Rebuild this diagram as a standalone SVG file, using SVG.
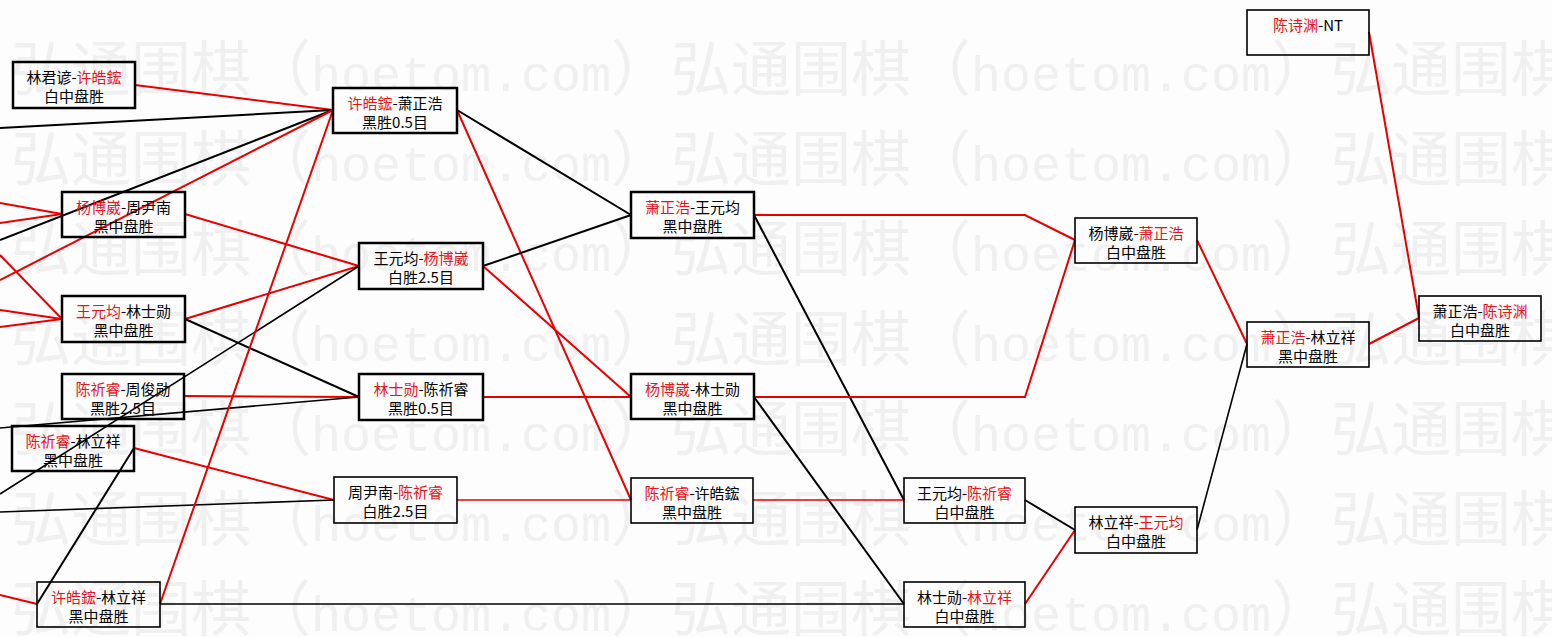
<svg xmlns="http://www.w3.org/2000/svg" width="1552" height="637" viewBox="0 0 1552 637">
<style>
.bg{fill:#fdfdfd}
.wm{font-family:"Noto Sans CJK SC",sans-serif;font-size:60px;fill:#f0f0f0}
.wl{font-family:"Liberation Mono",monospace;font-size:50px}
.box{fill:none;stroke:#000}
.thick{stroke-width:2.5}
.thin{stroke-width:1.6}
.t{font-family:"Noto Sans CJK SC","Liberation Sans",sans-serif;font-size:15px;text-anchor:middle;fill:#000}
.r{fill:#e8141b}
.cr{stroke:#e80000;fill:none;stroke-width:2}
.cb{stroke:#000;fill:none;stroke-width:2}
.n{stroke-width:1.6}
</style>
<rect class="bg" x="0" y="0" width="1552" height="637"/>
<g id="watermark">
<text class="wm" x="11" y="91">弘通围棋（<tspan class="wl">hoetom.com</tspan>）弘通围棋（<tspan class="wl">hoetom.com</tspan>）弘通围棋（<tspan class="wl">hoetom.com</tspan>）</text>
<text class="wm" x="11" y="181">弘通围棋（<tspan class="wl">hoetom.com</tspan>）弘通围棋（<tspan class="wl">hoetom.com</tspan>）弘通围棋（<tspan class="wl">hoetom.com</tspan>）</text>
<text class="wm" x="11" y="271">弘通围棋（<tspan class="wl">hoetom.com</tspan>）弘通围棋（<tspan class="wl">hoetom.com</tspan>）弘通围棋（<tspan class="wl">hoetom.com</tspan>）</text>
<text class="wm" x="11" y="361">弘通围棋（<tspan class="wl">hoetom.com</tspan>）弘通围棋（<tspan class="wl">hoetom.com</tspan>）弘通围棋（<tspan class="wl">hoetom.com</tspan>）</text>
<text class="wm" x="11" y="451">弘通围棋（<tspan class="wl">hoetom.com</tspan>）弘通围棋（<tspan class="wl">hoetom.com</tspan>）弘通围棋（<tspan class="wl">hoetom.com</tspan>）</text>
<text class="wm" x="11" y="541">弘通围棋（<tspan class="wl">hoetom.com</tspan>）弘通围棋（<tspan class="wl">hoetom.com</tspan>）弘通围棋（<tspan class="wl">hoetom.com</tspan>）</text>
<text class="wm" x="11" y="631">弘通围棋（<tspan class="wl">hoetom.com</tspan>）弘通围棋（<tspan class="wl">hoetom.com</tspan>）弘通围棋（<tspan class="wl">hoetom.com</tspan>）</text>
</g>
<g id="connectors">
<path class="cr" d="M135,85 L333,110"/>
<path class="cb" d="M0,128 L333,110"/>
<path class="cb" d="M0,240 L333,110"/>
<path class="cr" d="M0,280 L333,110"/>
<path class="cr" d="M0,203 L62,214"/>
<path class="cr" d="M0,223 L62,214"/>
<path class="cr" d="M0,255 L62,319"/>
<path class="cr" d="M0,310 L62,319"/>
<path class="cr" d="M0,327 L62,319"/>
<path class="cr" d="M185,214 L359,266"/>
<path class="cr" d="M185,319 L359,266"/>
<path class="cb" d="M185,319 L359,397"/>
<path class="cr" d="M184,396 L359,397"/>
<path class="cb n" d="M0,494 L359,266"/>
<path class="cb n" d="M0,428 L359,397"/>
<path class="cb" d="M134,448 L37,604"/>
<path class="cr" d="M134,448 L334,500"/>
<path class="cb n" d="M0,512 L334,500"/>
<path class="cr" d="M0,595 L37,604"/>
<path class="cr" d="M160,604 L333,110"/>
<path class="cb n" d="M160,604 L904,604"/>
<path class="cb" d="M457,110 L631,215"/>
<path class="cr" d="M457,110 L631,500"/>
<path class="cb" d="M483,266 L631,215"/>
<path class="cr" d="M483,266 L631,397"/>
<path class="cr" d="M483,397 L631,397"/>
<path class="cr n" d="M457,500 L631,500"/>
<path class="cr" d="M754,215 L1025,215 L1075,240"/>
<path class="cb" d="M754,215 L904,500"/>
<path class="cr" d="M754,397 L1025,397 L1075,240"/>
<path class="cb" d="M754,397 L904,604"/>
<path class="cr n" d="M753,500 L904,500"/>
<path class="cb" d="M1025,500 L1075,530"/>
<path class="cr" d="M1025,604 L1075,530"/>
<path class="cr" d="M1197,240 L1247,344"/>
<path class="cb n" d="M1197,530 L1247,344"/>
<path class="cr" d="M1369,344 L1419,318"/>
<path class="cr" d="M1369,32 L1419,318"/>
</g>
<g id="nA"><rect class="box thick" x="13" y="62" width="122" height="46"/><text class="t" x="74" y="83">林君谚-<tspan class="r">许皓鋐</tspan></text><text class="t" x="74" y="102">白中盘胜</text></g>
<g id="nB"><rect class="box thick" x="62" y="192" width="123" height="45"/><text class="t" x="123.5" y="213"><tspan class="r">杨博崴</tspan>-周尹南</text><text class="t" x="123.5" y="232">黑中盘胜</text></g>
<g id="nC"><rect class="box thick" x="62" y="296" width="123" height="46"/><text class="t" x="123.5" y="317"><tspan class="r">王元均</tspan>-林士勋</text><text class="t" x="123.5" y="336">黑中盘胜</text></g>
<g id="nD"><rect class="box thick" x="62" y="374" width="122" height="45"/><text class="t" x="123" y="395"><tspan class="r">陈祈睿</tspan>-周俊勋</text><text class="t" x="123" y="414">黑胜2.5目</text></g>
<g id="nE"><rect class="box thick" x="12" y="426" width="122" height="45"/><text class="t" x="73" y="447"><tspan class="r">陈祈睿</tspan>-林立祥</text><text class="t" x="73" y="466">黑中盘胜</text></g>
<g id="nF"><rect class="box thin" x="37" y="582" width="123" height="45"/><text class="t" x="98.5" y="603"><tspan class="r">许皓鋐</tspan>-林立祥</text><text class="t" x="98.5" y="622">黑中盘胜</text></g>
<g id="nG"><rect class="box thick" x="333" y="88" width="124" height="45"/><text class="t" x="395" y="109"><tspan class="r">许皓鋐</tspan>-萧正浩</text><text class="t" x="395" y="128">黑胜0.5目</text></g>
<g id="nH"><rect class="box thick" x="359" y="243" width="124" height="46"/><text class="t" x="421" y="264">王元均-<tspan class="r">杨博崴</tspan></text><text class="t" x="421" y="283">白胜2.5目</text></g>
<g id="nI"><rect class="box thick" x="359" y="374" width="124" height="46"/><text class="t" x="421" y="395"><tspan class="r">林士勋</tspan>-陈祈睿</text><text class="t" x="421" y="414">黑胜0.5目</text></g>
<g id="nJ"><rect class="box thin" x="334" y="477" width="123" height="46"/><text class="t" x="395.5" y="498">周尹南-<tspan class="r">陈祈睿</tspan></text><text class="t" x="395.5" y="517">白胜2.5目</text></g>
<g id="nK"><rect class="box thick" x="631" y="192" width="123" height="46"/><text class="t" x="692.5" y="213"><tspan class="r">萧正浩</tspan>-王元均</text><text class="t" x="692.5" y="232">黑中盘胜</text></g>
<g id="nL"><rect class="box thick" x="631" y="374" width="123" height="45"/><text class="t" x="692.5" y="395"><tspan class="r">杨博崴</tspan>-林士勋</text><text class="t" x="692.5" y="414">黑中盘胜</text></g>
<g id="nM"><rect class="box thin" x="631" y="478" width="122" height="45"/><text class="t" x="692" y="499"><tspan class="r">陈祈睿</tspan>-许皓鋐</text><text class="t" x="692" y="518">黑中盘胜</text></g>
<g id="nN"><rect class="box thin" x="904" y="478" width="121" height="45"/><text class="t" x="964.5" y="499">王元均-<tspan class="r">陈祈睿</tspan></text><text class="t" x="964.5" y="518">白中盘胜</text></g>
<g id="nO"><rect class="box thin" x="904" y="582" width="121" height="45"/><text class="t" x="964.5" y="603">林士勋-<tspan class="r">林立祥</tspan></text><text class="t" x="964.5" y="622">白中盘胜</text></g>
<g id="nP"><rect class="box thin" x="1075" y="218" width="122" height="45"/><text class="t" x="1136" y="239">杨博崴-<tspan class="r">萧正浩</tspan></text><text class="t" x="1136" y="258">白中盘胜</text></g>
<g id="nQ"><rect class="box thin" x="1075" y="507" width="122" height="46"/><text class="t" x="1136" y="528">林立祥-<tspan class="r">王元均</tspan></text><text class="t" x="1136" y="547">白中盘胜</text></g>
<g id="nR"><rect class="box thin" x="1247" y="322" width="122" height="45"/><text class="t" x="1308" y="343"><tspan class="r">萧正浩</tspan>-林立祥</text><text class="t" x="1308" y="362">黑中盘胜</text></g>
<g id="nS"><rect class="box thin" x="1419" y="296" width="122" height="45"/><text class="t" x="1480" y="317">萧正浩-<tspan class="r">陈诗渊</tspan></text><text class="t" x="1480" y="336">白中盘胜</text></g>
<g id="nT"><rect class="box thin" x="1247" y="10" width="122" height="45"/><text class="t" x="1308" y="31"><tspan class="r">陈诗渊</tspan>-NT</text></g>
</svg>
